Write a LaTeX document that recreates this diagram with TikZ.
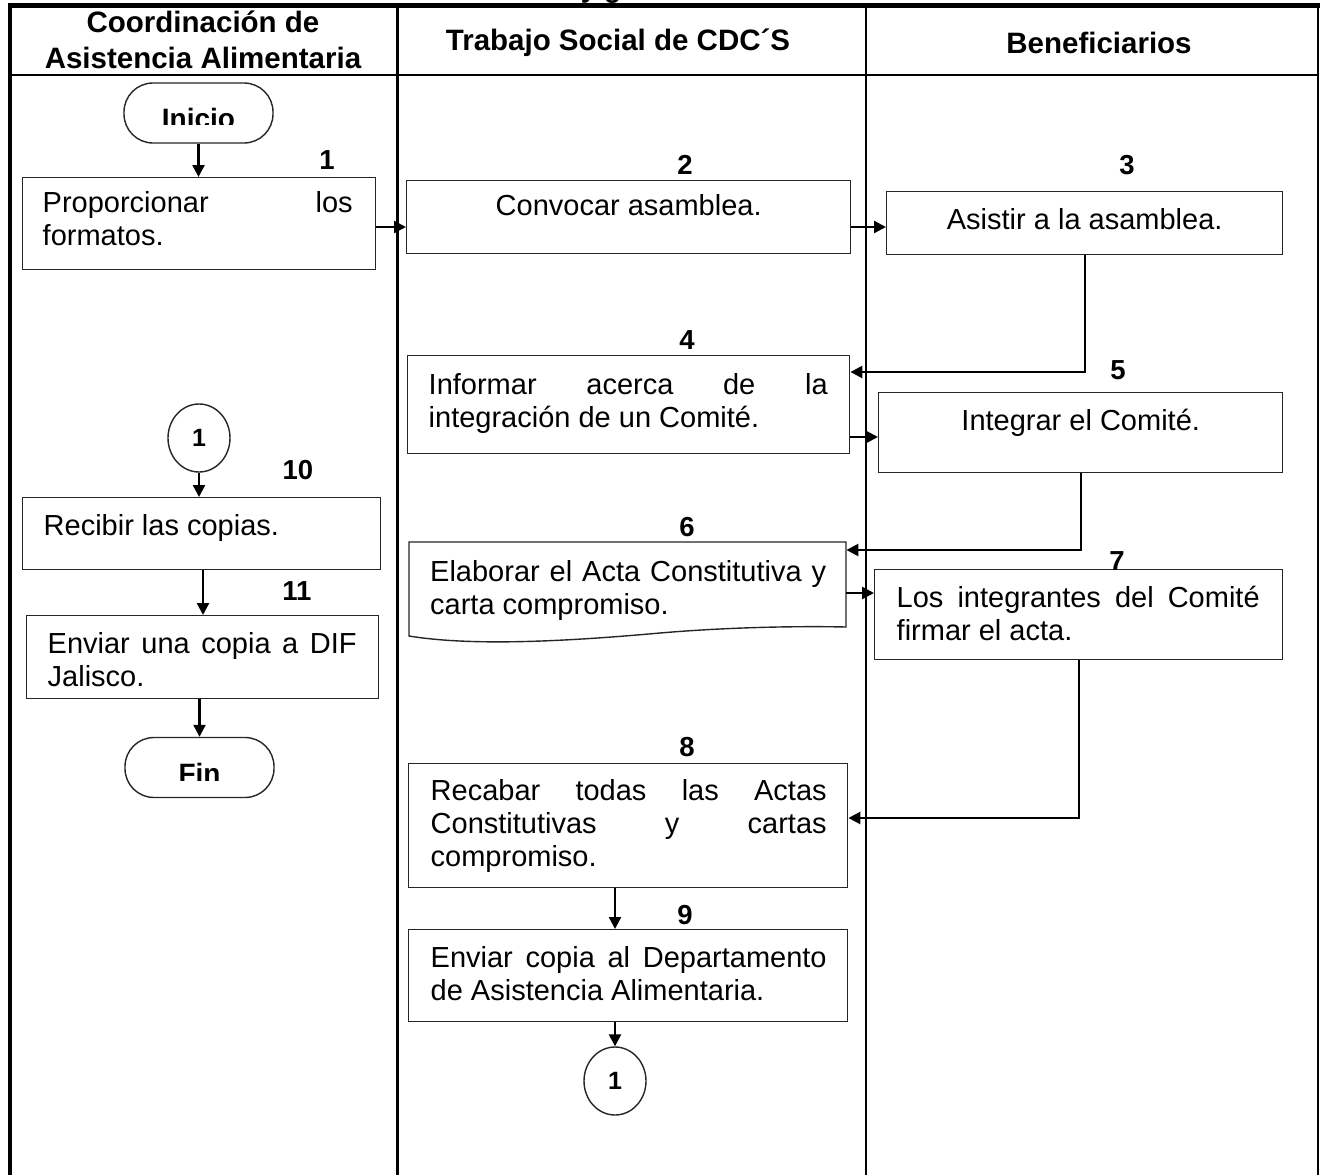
\documentclass[tikz,border=0pt]{standalone}
\usepackage{fontspec}
\setmainfont{Liberation Sans}
\usetikzlibrary{arrows.meta,shapes.geometric,calc}
\newcommand\jb[6]{\parbox[c][#2pt][t]{#1pt}{\leftskip=#3pt\relax\rightskip=#4pt\relax\rule{0pt}{#5pt}#6}}
\newcommand\cb[4]{\parbox[c][#2pt][t]{#1pt}{\leftskip=0pt plus 1fil\relax\rightskip=0pt plus 1fil\relax\parfillskip=0pt\relax\rule{0pt}{#3pt}#4}}
\begin{document}
\begin{tikzpicture}[x=1pt,y=-1pt,
  box/.style={draw=black!85, line width=1.4pt, inner sep=0pt, anchor=north west, font=\fontsize{29}{33}\selectfont},
  docbox/.style={draw=none, inner sep=0pt, anchor=north west, font=\fontsize{29}{33}\selectfont},
  outline/.style={draw=black!85, line width=1.4pt},
  conn/.style={line width=2.4pt, -{Triangle[length=12pt,width=12pt]}},
  num/.style={font=\fontsize{27.5}{27.5}\selectfont\bfseries, inner sep=0pt},
  hdr/.style={font=\fontsize{29.5}{36}\selectfont\bfseries, align=center, inner sep=0pt},
  term/.style={draw=black!85, line width=1.4pt, rounded corners=29pt, minimum width=149pt, minimum height=60pt, inner sep=0pt},
  termtext/.style={font=\fontsize{28}{28}\selectfont\bfseries, inner sep=0pt, anchor=base},
  oconn/.style={ellipse, draw=black!85, line width=1.4pt, minimum width=62pt, minimum height=68pt, inner sep=0pt, font=\fontsize{25}{25}\selectfont\bfseries}
]
\useasboundingbox (0,0) rectangle (1322,1175);
\fill[white] (0,0) rectangle (1322,1175);

% clipped title fragment
\node[termtext] (ttl) at (601,-2.5) {y g};

% table frame
\draw[line width=5pt] (8,5) -- (1320,5);
\draw[line width=2pt] (10,75) -- (1318,75);
\draw[line width=4pt] (10,3) -- (10,1175);
\draw[line width=3pt] (397,3) -- (397,1175);
\draw[line width=2pt] (866,3) -- (866,1175);
\draw[line width=2.5pt] (1318,3) -- (1318,1175);

% headers
\node[hdr] (h1) at (203,40) {Coordinación de\\Asistencia Alimentaria};
\node[hdr] (h2) at (618,43) {Trabajo Social de CDC´S};
\node[hdr] (h3) at (1099,43) {Beneficiarios};

% terminals
\node[term] (ini) at (198.5,113) {};
\begin{scope}
  \clip (110,90) rectangle (290,124);
  \node[termtext] (iniT) at (198.5,128) {Inicio};
\end{scope}
\node[term] (fin) at (199.5,767.5) {};
\begin{scope}
  \clip (110,745) rectangle (290,780);
  \node[termtext] (finT) at (199.5,783) {Fin};
\end{scope}

% process boxes
\node[box] (b1) at (22,177) {\jb{353}{92}{20}{23}{35}{Proporcionar\hfill los\\formatos.}};
\node[box] (b2) at (406,180) {\cb{444}{73}{35}{Convocar asamblea.}};
\node[box] (b3) at (886,191) {\cb{396}{63}{38}{Asistir a la asamblea.}};
\node[box] (b4) at (407,355) {\jb{442}{98}{21}{22}{39}{Informar\hfill acerca\hfill de\hfill la\\integración de un Comité.}};
\node[box] (b5) at (878,392) {\cb{404}{80}{38}{Integrar el Comité.}};
\node[docbox] (b6) at (409,542) {\jb{437}{94}{21}{20}{39}{Elaborar\hfill el\hfill Acta\hfill Constitutiva\hfill y\\carta compromiso.}};
\draw[outline] (409,636) -- (409,542) -- (846,542) -- (846,627)
  .. controls (800,626) and (730,627) .. (660,633)
  .. controls (560,642) and (470,646) .. (409,636) -- cycle;
\node[box] (b7) at (874,569) {\jb{408}{90}{22}{23}{38}{Los\hfill integrantes\hfill del\hfill Comité\\firmar el acta.}};
\node[box] (b8) at (408,763) {\jb{439}{124}{22}{21}{37}{Recabar\hfill todas\hfill las\hfill Actas\\Constitutivas\hfill y\hfill cartas\\compromiso.}};
\node[box] (b9) at (408,929) {\jb{439}{92}{22}{21}{38}{Enviar\hfill copia\hfill al\hfill Departamento\\de Asistencia Alimentaria.}};
\node[box] (b10) at (22,497) {\jb{358}{72}{21}{21}{38}{Recibir las copias.}};
\node[box] (b11) at (26,615) {\jb{352}{83}{21}{22}{38}{Enviar\hfill una\hfill copia\hfill a\hfill DIF\\Jalisco.}};

% off-page connectors
\node[oconn] (c1a) at (199,438) {1};
\node[oconn] (c1b) at (615,1081) {1};

% step numbers
\node[num] (n1) at (327,160) {1};
\node[num] (n2) at (685,165) {2};
\node[num] (n3) at (1127,165) {3};
\node[num] (n4) at (687,340) {4};
\node[num] (n5) at (1118,370) {5};
\node[num] (n6) at (687,527) {6};
\node[num] (n7) at (1117,561) {7};
\node[num] (n8) at (687,747) {8};
\node[num] (n9) at (685,915) {9};
\node[num] (n10) at (298,470) {10};
\node[num] (n11) at (297,591) {11};

% connectors
\draw[conn] (ini.south) -- (ini.south |- b1.north);
\draw[conn] (b1.east |- 0,227) -- (b2.west |- 0,227);
\draw[conn] (b2.east |- 0,227) -- (b3.west |- 0,227);
\draw[conn] (b3.south) |- (b4.east |- 0,372);
\draw[conn] (b4.east |- 0,437) -- (b5.west |- 0,437);
\draw[conn] (b5.south) |- (b6.east |- 0,550);
\draw[conn] (b6.east |- 0,593) -- (b7.west |- 0,593);
\draw[conn] (b7.south) |- (b8.east |- 0,818);
\draw[conn] (b8.south -| c1b.north) -- (b9.north -| c1b.north);
\draw[conn] (b9.south -| c1b.north) -- (c1b.north);
\draw[conn] (c1a.south) -- (c1a.south |- b10.north);
\draw[conn] (b10.south -| 203,0) -- (b11.north -| 203,0);
\draw[conn] (b11.south -| fin.north) -- (fin.north);
\end{tikzpicture}
\end{document}
